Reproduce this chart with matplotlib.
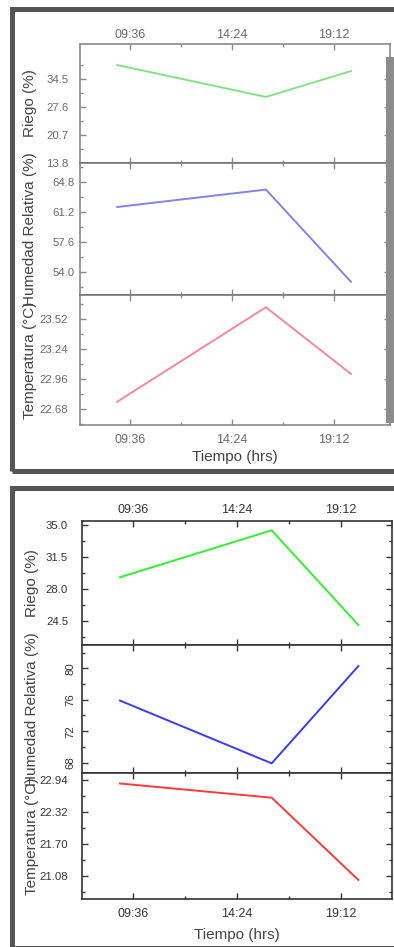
import matplotlib
matplotlib.use("Agg")
import matplotlib.pyplot as plt
from matplotlib.patches import Rectangle
from matplotlib.ticker import FixedLocator

plt.rcParams['font.family'] = ['Liberation Sans', 'DejaVu Sans']

# ---- data ----
hours = [9.0, 16.0, 20.0]
xtick_pos = [9.6, 14.4, 19.2]
xtick_labels = ["09:36", "14:24", "19:12"]

riego_a = [38.0, 30.1, 36.5]
humedad_a = [61.8, 63.9, 52.8]
temp_a = [22.75, 23.63, 23.01]

riego_b = [29.3, 34.45, 24.06]
humedad_b = [75.9, 67.9, 80.3]
temp_b = [22.876, 22.60, 21.00]

riego_a_ticks = [13.8, 20.7, 27.6, 34.5]
humedad_a_ticks = [54.0, 57.6, 61.2, 64.8]
temp_a_ticks = [22.68, 22.96, 23.24, 23.52]
riego_b_ticks = [24.5, 28.0, 31.5, 35.0]
humedad_b_ticks = [68, 72, 76, 80]
temp_b_ticks = [21.08, 21.70, 22.32, 22.94]

labels = ["Riego (%)", "Humedad Relativa (%)", "Temperatura (°C)"]

W, H = 394, 947
fig = plt.figure(figsize=(W / 100, H / 100), dpi=100)
fig.patch.set_facecolor('white')


def fx(px):
    return px / W


def fy(py):
    return 1 - py / H


# ---- frames ----
for (y0, y1) in [(7, 473), (485, 950)]:
    fig.patches.append(Rectangle((fx(11.5), fy(y1 - 2.5)), fx(400) - fx(11.5), fy(y0 + 2.5) - fy(y1 - 2.5),
                                 transform=fig.transFigure, fill=False, ec='#555555', lw=3.6))
# gray strip on right of first panel
fig.patches.append(Rectangle((fx(386), fy(423)), fx(8), fy(57) - fy(423),
                             transform=fig.transFigure, fc='#8c8c8c', ec='none', zorder=5))


def make_axes(left, right, top, bottom):
    return fig.add_axes([fx(left), fy(bottom), fx(right) - fx(left), fy(top) - fy(bottom)])


def minor_between(ticks):
    return [(a + b) / 2 for a, b in zip(ticks[:-1], ticks[1:])] + \
           [ticks[0] - (ticks[1] - ticks[0]) / 2, ticks[-1] + (ticks[1] - ticks[0]) / 2]


def style(ax, spine_col, tick_col, text_col, first, last, xlim, top_pad, bot_pad):
    ax.set_xlim(*xlim)
    ax.xaxis.set_major_locator(FixedLocator(xtick_pos))
    ax.xaxis.set_minor_locator(FixedLocator([12.0, 16.8]))
    ax.set_xticklabels(xtick_labels)
    ax.tick_params(axis='both', which='both', direction='in', top=True, bottom=True,
                   left=True, right=True, color=tick_col, labelcolor=text_col)
    ax.tick_params(axis='x', labelsize=9)
    ax.tick_params(axis='y', labelsize=8.2)
    ax.tick_params(which='major', length=4, width=1)
    ax.tick_params(which='minor', length=2.5, width=1)
    ax.tick_params(axis='x', labeltop=first, labelbottom=last,
                   pad=top_pad if first else bot_pad)
    for s in ax.spines.values():
        s.set_color(spine_col)
        s.set_linewidth(1.2)


# ---- panel A (top, faded) ----
xl_a = (7.25, 21.84)
axA = [make_axes(80, 390, 44, 163), make_axes(80, 390, 163, 295), make_axes(80, 390, 295, 425)]
data_a = [riego_a, humedad_a, temp_a]
ticks_a = [riego_a_ticks, humedad_a_ticks, temp_a_ticks]
lims_a = [(13.75, 43.2), (51.2, 67.1), (22.534, 23.744)]
cols_a = ['#7fe07f', '#7b7bea', '#ee8494']
fmt_a = ["{:.1f}", "{:.1f}", "{:.2f}"]
for i, ax in enumerate(axA):
    ax.plot(hours, data_a[i], color=cols_a[i], lw=1.4, alpha=0.95)
    ax.set_ylim(*lims_a[i])
    ax.yaxis.set_major_locator(FixedLocator(ticks_a[i]))
    ax.yaxis.set_minor_locator(FixedLocator(minor_between(ticks_a[i])))
    ax.set_yticklabels([fmt_a[i].format(t) for t in ticks_a[i]])
    style(ax, '#8a8a8a', '#8a8a8a', '#6a6a6a', i == 0, i == 2, xl_a, 2.0, 6.5)
    ax.tick_params(axis='y', pad=8.5 if i != 1 else 4)
    ax.set_ylabel(labels[i], fontsize=11, color='#444444')
    ax.yaxis.set_label_coords((37 - 80) / 310, 0.5)
axA[2].set_xlabel("Tiempo (hrs)", fontsize=11, color='#444444', labelpad=3)
axA[0].spines['bottom'].set_color('#777777')
axA[1].spines['top'].set_color('#777777')
axA[1].spines['bottom'].set_color('#777777')
axA[2].spines['top'].set_color('#777777')

# ---- panel B (bottom) ----
xl_b = (7.25, 21.55)
axB = [make_axes(82, 392, 521, 645), make_axes(82, 392, 645, 773), make_axes(82, 392, 773, 899)]
data_b = [riego_b, humedad_b, temp_b]
ticks_b = [riego_b_ticks, humedad_b_ticks, temp_b_ticks]
lims_b = [(21.87, 35.47), (66.67, 82.98), (20.63, 23.08)]
cols_b = ['#33ee33', '#3a3aff', '#ff3a3a']
fmt_b = ["{:.1f}", "{:d}", "{:.2f}"]
for i, ax in enumerate(axB):
    ax.plot(hours, data_b[i], color=cols_b[i], lw=1.4)
    ax.set_ylim(*lims_b[i])
    ax.yaxis.set_major_locator(FixedLocator(ticks_b[i]))
    ax.yaxis.set_minor_locator(FixedLocator(minor_between(ticks_b[i])))
    ax.set_yticklabels([fmt_b[i].format(t) for t in ticks_b[i]])
    style(ax, '#333333', '#333333', '#333333', i == 0, i == 2, xl_b, 3.5, 6.5)
    ax.tick_params(axis='y', pad=10)
    ax.set_ylabel(labels[i], fontsize=11, color='#444444')
    ax.yaxis.set_label_coords((39 - 82) / 310, 0.5)
for t in axB[1].get_yticklabels():
    t.set_rotation(90)
    t.set_va('center')
axB[1].tick_params(axis='y', pad=5)
axB[2].set_xlabel("Tiempo (hrs)", fontsize=11, color='#444444', labelpad=6)

fig.savefig("out.png", dpi=100, facecolor='white')
